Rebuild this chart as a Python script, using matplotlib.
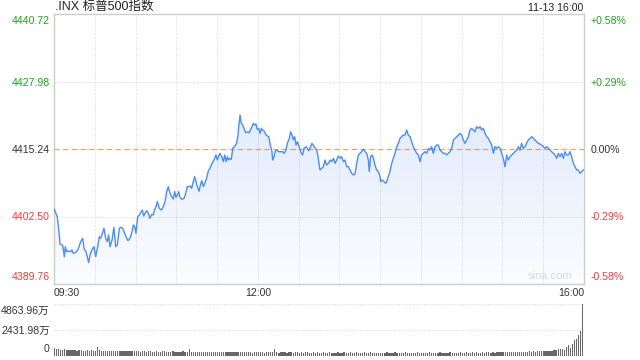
import numpy as np
import matplotlib
matplotlib.use("Agg")
import matplotlib.pyplot as plt
from matplotlib.transforms import ScaledTranslation

plt.rcParams['font.family'] = ['Liberation Sans', 'Noto Sans CJK SC', 'DejaVu Sans']

# ---- data ----
title = ".INX 标普500指数"
stamp = "11-13 16:00"
prev_close = 4415.24
price_ticks = [4389.76, 4402.50, 4415.24, 4427.98, 4440.72]
price_labels = ["4389.76", "4402.50", "4415.24", "4427.98", "4440.72"]
pct_labels = ["-0.58%", "-0.29%", "0.00%", "+0.29%", "+0.58%"]
time_ticks = [0, 150, 390]
time_labels = ["09:30", "12:00", "16:00"]
vol_ticks = [0, 2431.98, 4863.96]
vol_labels = ["0", "2431.98万", "4863.96万"]

# minutes after 09:30
minutes = [
    0.2, 2.4, 3.9, 4.4, 6.4, 7.6, 8.3, 9.3, 10.8, 12.3, 13.2, 14.2, 15.7, 17.2, 18.1,
    19.6, 21.1, 22.1, 23.5, 24.5, 25.5, 26.5, 28.0, 29.4, 30.7, 31.9, 33.4, 34.3, 35.6,
    36.8, 38.0, 39.2, 40.2, 41.2, 42.7, 44.1, 45.4, 46.6, 48.1, 49.1, 50.5, 51.5, 53.0,
    54.4, 55.9, 57.4, 58.4, 59.4, 60.3, 61.6, 62.8, 63.8, 65.0, 66.0, 67.2, 68.2, 69.4,
    70.6, 71.9, 73.1, 74.1, 75.1, 76.0, 77.5, 79.0, 80.5, 81.7, 82.9, 84.1, 85.4, 86.6,
    87.8, 88.8, 89.8, 90.8, 91.7, 92.7, 94.2, 95.7, 96.6, 98.1, 99.1, 100.3, 101.3, 102.5,
    103.5, 104.5, 105.5, 106.7, 107.7, 108.7, 109.9, 110.9, 112.3, 113.6, 114.8, 116.3,
    117.7, 119.2, 120.2, 121.2, 122.1, 123.6, 124.6, 125.6, 126.6, 127.5, 128.5, 129.5,
    130.5, 131.5, 132.9, 134.4, 135.4, 135.9, 136.9, 137.8, 138.8, 139.8, 141.0, 142.3,
    143.7, 144.7, 145.7, 146.7, 147.6, 148.6, 149.6, 150.6, 151.6, 152.6, 153.5, 155.0,
    156.0, 157.0, 158.0, 158.9, 160.4, 160.9, 161.9, 162.9, 163.8, 165.3, 166.8, 168.3,
    169.2, 170.7, 171.7, 173.2, 174.1, 175.1, 176.1, 177.1, 178.1, 179.1, 180.5, 182.0,
    183.0, 184.0, 185.4, 186.4, 187.4, 188.9, 189.8, 190.8, 192.3, 193.3, 194.3,
    195.7, 197.0, 198.2, 199.4, 200.6, 201.9, 203.1, 204.3, 205.6, 206.8, 208.0, 209.2,
    210.5, 211.7, 212.9, 214.1, 215.4, 216.6, 217.8, 219.0, 220.3, 221.5, 222.7, 224.0,
    225.2, 226.4, 227.6, 228.9, 230.1, 231.3, 232.0, 233.0, 234.0, 235.0, 236.2, 237.4,
    238.7, 239.9, 240.4, 241.6, 242.8, 244.1, 244.8, 246.0, 247.2, 248.5, 249.7, 250.9,
    252.2, 253.4, 254.6, 255.8, 257.1, 258.3, 259.5, 260.7, 262.0, 263.2, 264.4, 265.6,
    266.9, 268.1, 269.3, 270.5, 271.8, 273.0, 274.2, 275.5, 276.7, 277.9, 279.1, 280.4,
    281.6, 282.8, 284.0, 285.3, 286.5, 287.7, 288.9, 290.2, 291.4, 292.6, 293.9, 295.1,
    296.3, 297.5, 298.8, 300.0, 301.2, 302.4, 303.7, 304.9, 306.1, 307.3, 308.6, 309.8,
    311.0, 312.3, 313.5, 314.7, 315.9, 317.2, 318.4, 319.6, 320.8, 322.1, 323.3, 324.5,
    325.7, 327.0, 328.2, 329.4, 330.6, 331.9, 333.1, 334.3, 335.6, 336.8, 338.0, 339.2,
    340.5, 341.7, 342.9, 344.1, 345.4, 346.6, 347.8, 349.0, 350.3, 351.5, 352.7, 353.9,
    355.2, 356.4, 357.6, 358.9, 360.1, 361.3, 362.5, 363.8, 365.0, 366.2, 367.4, 368.7,
    369.9, 371.1, 372.3, 373.6, 374.8, 376.0, 377.2, 378.5, 379.7, 380.9, 382.2, 383.4,
    384.6, 385.8, 387.1, 388.3, 389.5,
]
prices = [
    4403.85, 4402.47, 4399.01, 4397.31, 4397.06, 4394.92, 4396.81, 4395.86, 4395.99, 4395.86,
    4396.18, 4395.55, 4395.68, 4396.05, 4396.56, 4397.75, 4398.38, 4396.49, 4395.86, 4394.92,
    4393.79, 4395.24, 4396.30, 4396.81, 4394.92, 4396.49, 4398.69, 4398.38, 4399.32, 4400.27,
    4398.38, 4397.75, 4399.01, 4396.81, 4398.07, 4400.46, 4396.81, 4397.12, 4400.27, 4400.46,
    4400.27, 4399.64, 4398.69, 4397.94, 4398.38, 4399.64, 4400.90, 4400.58, 4399.32, 4402.47,
    4402.78, 4403.22, 4403.73, 4402.59, 4403.22, 4403.60, 4403.10, 4402.15, 4402.91, 4402.78,
    4403.85, 4404.36, 4405.30, 4404.04, 4403.73, 4404.36, 4405.30, 4407.19, 4408.13, 4406.87,
    4406.24, 4405.80, 4407.19, 4406.12, 4406.56, 4407.19, 4406.12, 4405.74, 4405.93, 4406.56,
    4408.13, 4408.13, 4408.26, 4407.82, 4409.07, 4410.02, 4409.07, 4408.13, 4407.25, 4408.44,
    4409.26, 4408.13, 4408.76, 4409.70, 4411.15, 4411.59, 4412.53, 4413.16, 4414.11, 4413.16,
    4413.92, 4414.42, 4413.67, 4412.85, 4414.11, 4412.85, 4413.79, 4413.16, 4413.48, 4413.29,
    4415.36, 4415.68, 4416.31, 4417.88, 4419.45, 4421.65, 4420.08, 4419.83, 4419.14, 4418.32,
    4418.45, 4418.32, 4418.95, 4419.45, 4420.08, 4419.77, 4419.96, 4418.95, 4419.14, 4418.19,
    4419.14, 4418.82, 4418.51, 4417.88, 4417.69, 4417.56, 4416.31, 4414.73, 4413.16, 4413.79,
    4414.92, 4415.05, 4414.73, 4414.73, 4414.73, 4414.42, 4415.05, 4416.31, 4417.25, 4418.51,
    4417.88, 4416.94, 4417.56, 4415.99, 4416.62, 4415.55, 4414.42, 4414.11, 4415.36, 4415.68,
    4415.36, 4414.92, 4415.68, 4416.31, 4415.93, 4415.36, 4415.05, 4413.79,
    4411.27, 4411.59, 4411.90, 4413.16, 4412.22, 4412.53, 4413.16, 4412.85, 4413.48, 4412.53,
    4413.16, 4413.92, 4413.48, 4413.79, 4412.85, 4413.16, 4411.90, 4411.90, 4411.27, 4410.65,
    4410.33, 4410.52, 4412.53, 4414.11, 4414.42, 4414.73, 4415.24, 4414.73, 4414.42, 4413.16,
    4410.96, 4413.79, 4414.11, 4413.48, 4412.22, 4411.27, 4410.96, 4410.02, 4409.07, 4409.39,
    4409.07, 4408.76, 4409.07, 4410.02, 4410.96, 4412.53, 4413.48, 4414.42, 4415.68, 4416.31,
    4417.25, 4417.56, 4417.88, 4417.88, 4418.82, 4417.88, 4417.56, 4416.62, 4415.68, 4415.05,
    4414.42, 4414.11, 4412.85, 4414.11, 4414.42, 4414.73, 4414.42, 4415.36, 4415.05, 4415.68,
    4414.42, 4415.68, 4415.99, 4415.99, 4415.05, 4414.73, 4414.42, 4414.42, 4414.11, 4414.42,
    4414.73, 4415.36, 4416.94, 4417.25, 4417.56, 4417.88, 4418.19, 4417.88, 4416.94, 4416.31,
    4416.94, 4417.56, 4418.82, 4419.14, 4418.82, 4418.51, 4419.45, 4419.14, 4419.45, 4418.82,
    4419.14, 4418.19, 4417.56, 4417.25, 4416.62, 4415.99, 4414.42, 4415.68, 4415.36, 4415.68,
    4415.36, 4414.42, 4413.48, 4411.90, 4414.11, 4413.16, 4413.79, 4414.11, 4414.42, 4414.73,
    4415.05, 4415.68, 4415.05, 4416.31, 4415.36, 4415.68, 4416.31, 4416.94, 4417.25, 4417.56,
    4417.25, 4416.94, 4416.62, 4416.31, 4416.18, 4415.99, 4415.68, 4415.36, 4415.68, 4415.36,
    4415.05, 4414.73, 4414.42, 4414.11, 4413.48, 4414.42, 4413.79, 4414.42, 4413.48, 4414.73,
    4414.11, 4414.11, 4414.73, 4413.79, 4412.53, 4411.90, 4411.27, 4411.27, 4410.65, 4410.96,
    4411.27,
]

# volume in 万, one bar every 1.5 minutes
vol_minutes = [1.5 * i for i in range(260)]
volumes = [
    680, 600, 640, 560, 540, 590, 520, 500, 560, 490, 510, 470, 500, 530, 460, 450, 500, 440, 480, 450,
    430, 780, 480, 440, 420, 470, 410, 440, 400, 450, 420, 390, 410, 440, 400, 380, 420, 390, 410, 400,
    380, 410, 370, 390, 420, 360, 380, 400, 370, 350, 390, 370, 360, 380, 410, 360, 350, 370, 390, 360,
    350, 370, 340, 380, 360, 350, 660, 370, 340, 330, 360, 320, 350, 370, 330, 360, 320, 340, 350, 310,
    330, 300, 340, 310, 320, 350, 300, 330, 290, 320, 340, 300, 310, 330, 290, 300, 320, 280, 310, 300,
    290, 320, 300, 280, 310, 330, 290, 300, 600, 310, 280, 300, 320, 290, 270, 300, 310, 280, 290, 300,
    280, 300, 270, 290, 310, 260, 280, 300, 270, 290, 260, 280, 300, 270, 250, 290, 280, 260, 270, 290,
    260, 280, 300, 250, 270, 290, 260, 280, 310, 270, 250, 280, 290, 260, 270, 300, 250, 280, 260, 270,
    270, 250, 280, 300, 260, 270, 250, 290, 260, 280, 270, 250, 300, 270, 260, 280, 250, 270, 290, 260,
    260, 280, 250, 270, 300, 260, 280, 250, 270, 290, 260, 250, 280, 270, 300, 260, 250, 280, 270, 290,
    280, 260, 290, 270, 250, 300, 270, 290, 260, 280, 300, 270, 290, 310, 280, 300, 270, 320, 290, 300,
    300, 320, 290, 310, 330, 300, 340, 320, 310, 350, 330, 360, 340, 380, 350, 400, 370, 420, 380, 450,
    420, 380, 460, 420, 470, 500, 540, 620, 600, 580, 560, 850, 950, 740, 1080, 1500, 1590, 1950, 2330, 4863.96,
]

GREEN = '#1fa31f'
RED = '#f03c3c'
DARK = '#333333'
GRID = '#d9d9d9'
LINE = '#4f8cf0'

fig = plt.figure(figsize=(6.4, 3.6), dpi=100)
ax = fig.add_axes([54 / 640, 1 - 284 / 360, 530 / 640, 270 / 360])
vax = fig.add_axes([54 / 640, 1 - 355.5 / 360, 530 / 640, 51.5 / 360])

lo, hi = price_ticks[0], price_ticks[-1]

# gradient fill under the line
poly = ax.fill_between(minutes, prices, lo, color='none', lw=0)
grad = np.linspace(0, 1, 256)
rgba = np.zeros((256, 1, 4))
rgba[:, 0, 0] = 0.30
rgba[:, 0, 1] = 0.54
rgba[:, 0, 2] = 0.94
rgba[:, 0, 3] = 0.02 + 0.15 * grad
img = ax.imshow(rgba, extent=[0, 390, lo, max(prices)], origin='lower',
                aspect='auto', zorder=1, interpolation='bilinear')
img.set_clip_path(poly.get_paths()[0], transform=ax.transData)
ax.set_xlim(0, 390)
ax.set_ylim(lo, hi)

# grid
for m in range(30, 390, 30):
    ax.axvline(m, color=GRID, lw=0.7, ls=(0, (1, 1.5)), zorder=0.5)
for v in (price_ticks[1], price_ticks[3]):
    ax.axhline(v, color=GRID, lw=0.7, ls=(0, (1, 1.5)), zorder=0.5)
ax.axhline(prev_close, color=GRID, lw=0.7, ls=(0, (1, 1.5)), zorder=0.5)
ax.axhline(prev_close, color='#f2a06a', lw=0.9, ls=(0, (4, 3)), zorder=0.6)

ax.plot(minutes, prices, color=LINE, lw=1.0, zorder=3)

for s in ax.spines.values():
    s.set_color('#cccccc')
    s.set_linewidth(1.0)

# left price labels
ax.set_yticks(price_ticks, price_labels)
ax.tick_params(axis='y', length=0, pad=3, labelsize=7.6)
colors = [RED, RED, DARK, GREEN, GREEN]
for lab, c in zip(ax.get_yticklabels(), colors):
    lab.set_color(c)
labs = ax.get_yticklabels()
labs[0].set_va('bottom')
labs[0].set_transform(labs[0].get_transform() + ScaledTranslation(0, 2 / 100, fig.dpi_scale_trans))
labs[-1].set_va('top')
labs[-1].set_transform(labs[-1].get_transform() + ScaledTranslation(0, -2 / 100, fig.dpi_scale_trans))

# right percent labels
rax = ax.twinx()
rax.set_ylim(lo, hi)
rax.set_yticks(price_ticks, pct_labels)
rax.tick_params(axis='y', length=0, pad=5, labelsize=7.6)
for lab, c in zip(rax.get_yticklabels(), colors):
    lab.set_color(c)
rlabs = rax.get_yticklabels()
rlabs[0].set_va('bottom')
rlabs[0].set_transform(rlabs[0].get_transform() + ScaledTranslation(0, 2 / 100, fig.dpi_scale_trans))
rlabs[-1].set_va('top')
rlabs[-1].set_transform(rlabs[-1].get_transform() + ScaledTranslation(0, -2 / 100, fig.dpi_scale_trans))
for s in rax.spines.values():
    s.set_visible(False)

# time labels
ax.set_xticks(time_ticks, time_labels)
ax.tick_params(axis='x', length=0, pad=3, labelsize=7.6, labelcolor=DARK)
xl = ax.get_xticklabels()
xl[0].set_ha('left')
xl[-1].set_ha('right')

ax.text(0.978, 0.012, "sina.com", transform=ax.transAxes, ha='right', va='bottom',
        fontsize=8, color='#d8d8d8')

fig.text(55 / 640, 1 - 7 / 360, title, ha='left', va='center', fontsize=9, color='#222222')
fig.text(583 / 640, 1 - 8 / 360, stamp, ha='right', va='center', fontsize=7.6, color='#222222')

# volume panel
vax.bar(vol_minutes, volumes, width=0.95, color='#666666', align='edge', lw=0)
vax.set_xlim(0, 390)
vax.set_ylim(0, vol_ticks[-1])
for v in vol_ticks[1:]:
    vax.axhline(v, color=GRID, lw=0.8, ls=(0, (1, 1.5)), zorder=0)
for s in vax.spines.values():
    s.set_visible(False)
vax.set_xticks([])
vax.set_yticks(vol_ticks, vol_labels)
vax.tick_params(axis='y', length=0, pad=3, labelsize=7.6, labelcolor=DARK)
vl = vax.get_yticklabels()
vl[0].set_va('bottom')
vl[0].set_transform(vl[0].get_transform() + ScaledTranslation(0, 1 / 100, fig.dpi_scale_trans))
vl[-1].set_va('top')
vl[-1].set_transform(vl[-1].get_transform() + ScaledTranslation(0, -2 / 100, fig.dpi_scale_trans))

fig.savefig('out.png', dpi=100)
